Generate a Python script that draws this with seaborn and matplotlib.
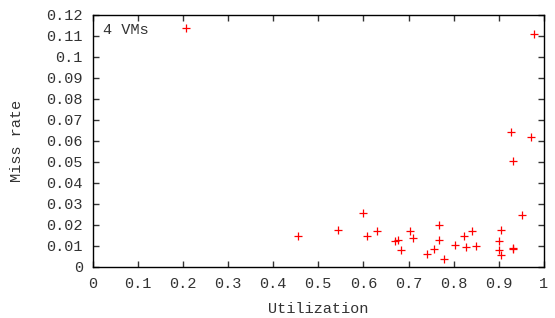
import matplotlib
matplotlib.use("Agg")
import matplotlib.pyplot as plt
import seaborn as sns
import numpy as np
import pandas as pd
from matplotlib.ticker import MultipleLocator, FuncFormatter

utilization = [0.207, 0.979, 0.926, 0.972, 0.932,
               0.456, 0.544, 0.599, 0.608, 0.631, 0.670, 0.677, 0.683,
               0.703, 0.710, 0.740, 0.756, 0.767, 0.767, 0.779, 0.802,
               0.824, 0.827, 0.841, 0.849, 0.901, 0.906, 0.901, 0.905,
               0.931, 0.932, 0.951]
miss_rate = [0.1137, 0.1110, 0.0643, 0.0619, 0.0502,
             0.0146, 0.0175, 0.0257, 0.0148, 0.0170, 0.0122, 0.0127, 0.0081,
             0.0170, 0.0138, 0.0060, 0.0087, 0.0199, 0.0127, 0.0037, 0.0103,
             0.0145, 0.0095, 0.0168, 0.0100, 0.0124, 0.0173, 0.0078, 0.0056,
             0.0090, 0.0083, 0.0246]

df = pd.DataFrame({"Utilization": utilization, "Miss rate": miss_rate})

sns.set_style("ticks")
plt.rcParams['font.family'] = ['Liberation Mono', 'DejaVu Sans Mono']
plt.rcParams['font.size'] = 11

fig = plt.figure(figsize=(5.55, 3.18), dpi=100)
ax = fig.add_axes([0.167, 0.161, 0.813, 0.793])

sns.scatterplot(data=df, x="Utilization", y="Miss rate", marker='+',
                color='red', s=30, linewidth=0.9, ax=ax, legend=False)

ax.set_xlim(0, 1)
ax.set_ylim(0, 0.12)
ax.xaxis.set_major_locator(MultipleLocator(0.1))
ax.yaxis.set_major_locator(MultipleLocator(0.01))
fmt = FuncFormatter(lambda v, p: ('%.2f' % v).rstrip('0').rstrip('.') if abs(v) > 1e-9 else '0')
ax.xaxis.set_major_formatter(fmt)
ax.yaxis.set_major_formatter(fmt)

ax.tick_params(direction='in', length=4.5, width=1, top=True, right=True,
               pad=7, labelsize=11, colors='#333333')
for s in ax.spines.values():
    s.set_linewidth(1.0)
    s.set_color('black')
    s.set_visible(True)

ax.set_xlabel("Utilization", fontsize=11, color='#333333', labelpad=8)
ax.set_ylabel("Miss rate", fontsize=11, color='#333333', labelpad=16)

ax.text(0.022, 0.94, "4 VMs", transform=ax.transAxes, fontsize=11,
        color='#333333', ha='left', va='center')

fig.savefig("out.png", dpi=100)
